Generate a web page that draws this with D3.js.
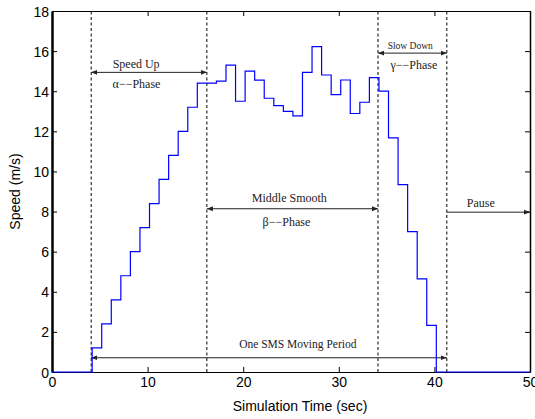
<!DOCTYPE html>
<meta charset="utf-8">
<style>
    body {
        margin: 0;
        padding: 0;
        background: #fff;
    }
    .tick text {
        font-family: "Liberation Sans", Arial, sans-serif;
        font-size: 14px;
        fill: #000;
    }
    .note {
        font-family: "Liberation Serif", "Times New Roman", serif;
        fill: #222;
    }
    .label {
        font-family: "Liberation Sans", Arial, sans-serif;
        font-size: 14px;
    }
</style>
<body>
<script src="https://cdnjs.cloudflare.com/ajax/libs/d3/7.8.5/d3.min.js"></script>
<script>
    // step speed profile, value held from each time until the next one
    var times = [0, 4.2, 5.2, 6.2, 7.2, 8.2, 9.2, 10.2, 11.2, 12.2, 13.2, 14.2, 15.2,
        16.2, 17.2, 18.2, 19.2, 20.2, 21.2, 22.2, 23.2, 24.2, 25.2, 26.2, 27.2, 28.2,
        29.2, 30.2, 31.2, 32.2, 33.2, 34.2, 35.2, 36.2, 37.2, 38.2, 39.2, 40.2, 50];
    var speeds = [0, 1.2, 2.4, 3.6, 4.8, 6.0, 7.2, 8.4, 9.6, 10.8, 12.0, 13.2, 14.4,
        14.4, 14.5, 15.3, 13.5, 15.0, 14.55, 13.65, 13.28, 13.0, 12.77, 14.94, 16.22, 14.81,
        13.83, 14.56, 12.89, 13.45, 14.68, 14.0, 11.67, 9.34, 7.0, 4.64, 2.32, 0, 0];

    // phase borders (dashed lines)
    var borders = [4.1, 16.2, 34.1, 41.3];

    var xTicks = [0, 10, 20, 30, 40, 50];
    var yTicks = [0, 2, 4, 6, 8, 10, 12, 14, 16, 18];

    // double arrows: from, to, height
    var arrowFrom = [4.1, 16.2, 34.1, 4.1];
    var arrowTo = [16.2, 34.1, 41.3, 41.3];
    var arrowAt = [14.94, 8.14, 15.9, 0.71];

    var width = 535, height = 419;
    var margin = {top: 11, right: 5, bottom: 47, left: 52};

    var x = d3.scaleLinear().domain([0, 50]).range([margin.left, width - margin.right]);
    var y = d3.scaleLinear().domain([0, 18]).range([height - margin.bottom, margin.top]);

    var svg = d3.select("body")
        .append("svg")
        .attr("width", width)
        .attr("height", height);

    var defs = svg.append("defs");
    defs.append("marker")
        .attr("id", "head")
        .attr("viewBox", "0 0 6 6")
        .attr("refX", 6).attr("refY", 3)
        .attr("markerWidth", 6).attr("markerHeight", 6)
        .attr("markerUnits", "userSpaceOnUse")
        .attr("orient", "auto-start-reverse")
        .append("path")
        .attr("d", "M0,0.6L6,3L0,5.4Z")
        .attr("fill", "#222");

    // axes, ticks pointing inward
    svg.append("g")
        .attr("transform", "translate(0," + y(0) + ")")
        .call(d3.axisBottom(x).tickValues(xTicks).tickSizeInner(-5).tickSizeOuter(0).tickPadding(5));
    svg.append("g")
        .attr("transform", "translate(0," + y(18) + ")")
        .call(d3.axisTop(x).tickValues(xTicks).tickSizeInner(-5).tickSizeOuter(0).tickFormat(""));
    var left = svg.append("g")
        .attr("transform", "translate(" + x(0) + ",0)")
        .call(d3.axisLeft(y).tickValues(yTicks).tickSizeInner(-5).tickSizeOuter(0).tickPadding(3));
    var right = svg.append("g")
        .attr("transform", "translate(" + x(50) + ",0)")
        .call(d3.axisRight(y).tickValues(yTicks).tickSizeInner(-5).tickSizeOuter(0).tickFormat(""));

    svg.selectAll(".domain").attr("stroke", "#000").attr("stroke-width", 1);
    left.select(".domain").attr("stroke-width", 2.5);
    right.select(".domain").attr("stroke-width", 1.5);
    svg.selectAll(".tick line").attr("stroke", "#000");
    left.selectAll(".tick text").attr("dy", "0.36em");

    // phase borders
    svg.append("g").selectAll("line")
        .data(borders)
        .enter().append("line")
        .attr("x1", function(d) { return x(d); })
        .attr("x2", function(d) { return x(d); })
        .attr("y1", y(0))
        .attr("y2", y(18))
        .attr("stroke", "#000")
        .attr("stroke-width", 1)
        .attr("stroke-dasharray", "3,2.5");

    // arrows
    svg.append("g").selectAll("line")
        .data(arrowAt)
        .enter().append("line")
        .attr("x1", function(d, i) { return x(arrowFrom[i]); })
        .attr("x2", function(d, i) { return x(arrowTo[i]); })
        .attr("y1", function(d) { return y(d); })
        .attr("y2", function(d) { return y(d); })
        .attr("stroke", "#222")
        .attr("stroke-width", 1)
        .attr("marker-start", "url(#head)")
        .attr("marker-end", "url(#head)");

    // pause arrow, one head only
    svg.append("line")
        .attr("x1", x(41.3)).attr("x2", x(50))
        .attr("y1", y(7.97)).attr("y2", y(7.97))
        .attr("stroke", "#222")
        .attr("stroke-width", 1)
        .attr("marker-end", "url(#head)");

    // speed line
    var line = d3.line()
        .x(function(d, i) { return x(times[i]); })
        .y(function(d) { return y(d); })
        .curve(d3.curveStepAfter);

    svg.append("path")
        .datum(speeds)
        .attr("d", line)
        .attr("fill", "none")
        .attr("stroke", "#0000ff")
        .attr("stroke-width", 1.2);

    // annotations
    var notes = [
        {t: "Speed Up", x: 8.8, y: 14.94, dy: -4, s: 12},
        {t: "\u03b1\u2212\u2212Phase", x: 8.84, y: 14.94, dy: 16, s: 12},
        {t: "Middle Smooth", x: 24.83, y: 8.14, dy: -6.5, s: 12},
        {t: "\u03b2\u2212\u2212Phase", x: 24.52, y: 8.14, dy: 17, s: 12},
        {t: "Slow Down", x: 37.47, y: 15.9, dy: -4.5, s: 9.5},
        {t: "\u03b3\u2212\u2212Phase", x: 37.85, y: 15.9, dy: 15.5, s: 12},
        {t: "Pause", x: 44.86, y: 7.97, dy: -5.5, s: 12},
        {t: "One SMS Moving Period", x: 25.71, y: 0.71, dy: -10, s: 11.5}
    ];
    svg.append("g").selectAll("text")
        .data(notes)
        .enter().append("text")
        .attr("class", "note")
        .attr("x", function(d) { return x(d.x); })
        .attr("y", function(d) { return y(d.y) + d.dy; })
        .attr("text-anchor", "middle")
        .style("font-size", function(d) { return d.s + "px"; })
        .text(function(d) { return d.t; });

    // axis titles
    svg.append("text")
        .attr("class", "label")
        .attr("x", 300)
        .attr("y", 411)
        .attr("text-anchor", "middle")
        .text("Simulation Time (sec)");
    svg.append("text")
        .attr("class", "label")
        .attr("transform", "translate(20," + (y(9)) + ") rotate(-90)")
        .attr("text-anchor", "middle")
        .text("Speed (m/s)");
</script>
</body>
</html>
